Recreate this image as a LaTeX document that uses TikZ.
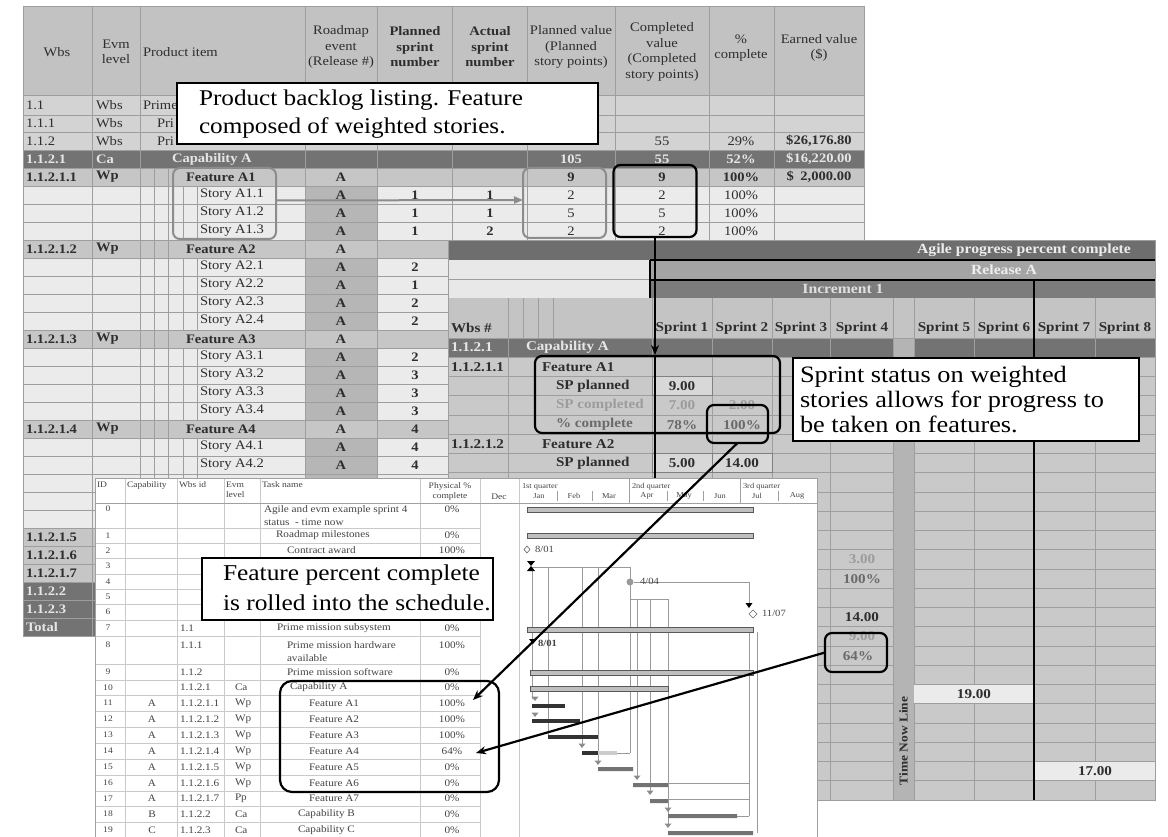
\documentclass[tikz,border=0pt]{standalone}
\usepackage{fontspec}
\setmainfont{Liberation Serif}[FakeStretch=1.12]
\usetikzlibrary{arrows.meta}
\definecolor{hdrc}{HTML}{C2C2C2}
\definecolor{topc}{HTML}{D3D3D3}
\definecolor{capc}{HTML}{737373}
\definecolor{featc}{HTML}{C6C6C6}
\definecolor{storyc}{HTML}{EBEBEB}
\definecolor{rmc}{HTML}{B6B6B6}
\definecolor{gridc}{HTML}{9E9E9E}
\definecolor{txc}{HTML}{2E2E2E}
\definecolor{captx}{HTML}{E6E6E6}
\definecolor{agilec}{HTML}{6E6E6E}
\definecolor{relc}{HTML}{A4A4A4}
\definecolor{incc}{HTML}{7C7C7C}
\definecolor{t2lt}{HTML}{E8E8E8}
\definecolor{t2hdr}{HTML}{C4C4C4}
\definecolor{t2body}{HTML}{C9C9C9}
\definecolor{tnc}{HTML}{B4B4B4}
\definecolor{valc}{HTML}{D8D8D8}
\definecolor{fadetx}{HTML}{9C9C9C}
\definecolor{pcttx}{HTML}{6A6A6A}
\definecolor{gtx}{HTML}{444444}
\definecolor{gline}{HTML}{C9C9C9}
\definecolor{gbord}{HTML}{A0A0A0}
\definecolor{linkc}{HTML}{9A9A9A}
\definecolor{grayboxc}{HTML}{8C8C8C}
\newcounter{nn}
\newcommand\tx[4][]{\stepcounter{nn}\node[#1] (n\arabic{nn}) at (#2,#3) {#4};}
\newcommand\srow[3]{\tx[t1,lft]{200}{#1}{#2}\tx[t1b]{341}{#1}{A}\tx[t1b]{415}{#1}{#3}}
\newcommand\frow[3]{\tx[t1b,lft]{26}{#1}{#2}\tx[t1b,lft]{96}{#1}{Wp}\tx[t1b,lft]{186}{#1}{#3}\tx[t1b]{341}{#1}{A}}
\newcommand\sbar[3]{\draw[black!65, line width=0.6pt, fill=black!25] (#1,#3-2.5) rectangle (#2,#3+2.5);}
\newcommand\gtri[2]{\fill[black!45] (#1-3.5,#2-2.5) -- (#1+3.5,#2-2.5) -- (#1,#2+2) -- cycle;}
\begin{document}
\begin{tikzpicture}[x=1pt,y=-1pt,
 every node/.style={inner sep=0pt, outer sep=0pt},
 lft/.style={anchor=west},
 hd/.style={font=\fontsize{13}{15.5}\selectfont, text=txc, align=center},
 hdb/.style={font=\fontsize{13}{15.5}\selectfont\bfseries, text=txc, align=center},
 t1/.style={font=\fontsize{13}{15}\selectfont, text=txc},
 t1b/.style={font=\fontsize{13}{15}\selectfont\bfseries, text=txc},
 t1c/.style={font=\fontsize{13}{15}\selectfont\bfseries, text=captx},
 t2/.style={font=\fontsize{13.5}{15}\selectfont\bfseries, text=txc},
 t2f/.style={t2, text=fadetx},
 t2p/.style={t2, text=pcttx},
 t2c/.style={t2, text=captx},
 t2h/.style={font=\fontsize{14}{16}\selectfont\bfseries, text=white!93!black},
 gt/.style={font=\fontsize{10}{13}\selectfont, text=gtx},
 gh/.style={font=\fontsize{8.5}{10}\selectfont, text=gtx},
 gq/.style={font=\fontsize{7.5}{9}\selectfont, text=gtx},
 gm/.style={font=\fontsize{9.5}{11}\selectfont, text=gtx},
 callout/.style={draw=black, line width=2.2pt, fill=white},
 ctext/.style={align=left, anchor=west, text=black},
 gbox/.style={draw=grayboxc, line width=2pt, rounded corners=7pt},
 kbox/.style={draw=black, line width=2.2pt, rounded corners=7pt},
 blk/.style={draw=black, line width=2.2pt},
 arr/.style={-{Stealth[length=10pt,width=8pt]}},
 grd/.style={draw=gridc, line width=0.6pt}]
\useasboundingbox (0,0) rectangle (1168,837);
\clip (0,0) rectangle (1168,837);
\fill[white] (0,0) rectangle (1168,837);

% ================= Table 1: product backlog =================
\fill[hdrc] (23,6) rectangle (864,95);
\fill[topc] (23,95) rectangle (864,150);
\fill[capc] (23,150) rectangle (864,168);
\fill[storyc] (23,168) rectangle (864,582);
\foreach \ya in {168,240,330,420,528,546,564} \fill[featc] (23,\ya) rectangle (864,\ya+18);
\foreach \ya in {186,204,222,258,276,294,312,348,366,384,402,438,456,474,492,510} \fill[rmc] (305,\ya) rectangle (377,\ya+18);
\fill[capc] (23,582) rectangle (864,636);
\foreach \yy in {95,115,132,150} \draw[grd] (23,\yy) -- (864,\yy);
\foreach \yy in {168,186,...,636} \draw[grd] (23,\yy) -- (864,\yy);
\foreach \xx in {23,92,140,305,377,452,527,615,709,774,864} \draw[grd] (\xx,6) -- (\xx,636);
\draw[grd] (23,6) -- (864,6);
\foreach \ya in {186,204,222,258,276,294,312,348,366,384,402,438,456,474,492,510}
  \foreach \xx in {154,168,183,197} \draw[grd] (\xx,\ya) -- (\xx,\ya+18);
\foreach \ya in {168,240,330,420,528,546,564}
  \foreach \xx in {154,168} \draw[grd] (\xx,\ya) -- (\xx,\ya+18);

% header
\tx[hd]{57}{52}{Wbs}
\tx[hd]{116}{52}{Evm\\level}
\tx[hd,lft]{143}{52}{Product item}
\tx[hd]{341}{47}{Roadmap\\event\\(Release \#)}
\tx[hdb]{415}{47}{Planned\\sprint\\number}
\tx[hdb]{490}{47}{Actual\\sprint\\number}
\tx[hd]{571}{47}{Planned value\\(Planned\\story points)}
\tx[hd]{662}{52}{Completed\\value\\(Completed\\story points)}
\tx[hd]{741}{48}{\%\\complete}
\tx[hd]{819}{48}{Earned value\\(\$)}
% top rows (partly hidden by the callout)
\tx[t1,lft]{26}{105}{1.1} \tx[t1,lft]{96}{105}{Wbs} \tx[t1,lft]{143}{105}{Prime}
\tx[t1,lft]{26}{123.5}{1.1.1} \tx[t1,lft]{96}{123.5}{Wbs} \tx[t1,lft]{157}{123.5}{Pri}
\tx[t1,lft]{26}{141}{1.1.2} \tx[t1,lft]{96}{141}{Wbs} \tx[t1,lft]{157}{141}{Pri}
\tx[t1]{662}{141}{55} \tx[t1]{741}{141}{29\%} \tx[t1b]{819}{141}{\$26,176.80}
\tx[t1c,lft]{26}{159}{1.1.2.1} \tx[t1c,lft]{96}{159}{Ca} \tx[t1c,lft]{172}{159}{Capability A}
\tx[t1c]{571}{159}{105} \tx[t1c]{662}{159}{55} \tx[t1c]{741}{159}{52\%} \tx[t1c]{819}{159}{\$16,220.00}
% feature A1
\frow{177}{1.1.2.1.1}{Feature A1}
\tx[t1b]{571}{177}{9} \tx[t1b]{662}{177}{9} \tx[t1b]{741}{177}{100\%} \tx[t1b]{819}{177}{\$\enspace2,000.00}
\srow{195}{Story A1.1}{1} \tx[t1b]{490}{195}{1} \tx[t1]{571}{195}{2} \tx[t1]{662}{195}{2} \tx[t1]{741}{195}{100\%}
\srow{213}{Story A1.2}{1} \tx[t1b]{490}{213}{1} \tx[t1]{571}{213}{5} \tx[t1]{662}{213}{5} \tx[t1]{741}{213}{100\%}
\srow{231}{Story A1.3}{1} \tx[t1b]{490}{231}{2} \tx[t1]{571}{231}{2} \tx[t1]{662}{231}{2} \tx[t1]{741}{231}{100\%}
\frow{249}{1.1.2.1.2}{Feature A2}
\srow{267}{Story A2.1}{2} \srow{285}{Story A2.2}{1} \srow{303}{Story A2.3}{2} \srow{321}{Story A2.4}{2}
\frow{339}{1.1.2.1.3}{Feature A3}
\srow{357}{Story A3.1}{2} \srow{375}{Story A3.2}{3} \srow{393}{Story A3.3}{3} \srow{411}{Story A3.4}{3}
\frow{429}{1.1.2.1.4}{Feature A4} \tx[t1b]{415}{429}{4}
\srow{447}{Story A4.1}{4} \srow{465}{Story A4.2}{4}
\tx[t1b,lft]{26}{537}{1.1.2.1.5} \tx[t1b,lft]{26}{555}{1.1.2.1.6} \tx[t1b,lft]{26}{573}{1.1.2.1.7}
\tx[t1c,lft]{26}{591}{1.1.2.2} \tx[t1c,lft]{26}{609}{1.1.2.3} \tx[t1c,lft]{26}{627}{Total}

% callout 1
\node[callout, minimum width=421pt, minimum height=61pt] (call1) at (387.5,113.5) {};
\node[ctext, font=\fontsize{22.5}{28}\selectfont] (call1t) at (199,114) {Product backlog listing. Feature\\composed of weighted stories.};
% boxes in table 1
\node[gbox, minimum width=103pt, minimum height=71pt] (storybox) at (224.5,203.5) {};
\node[gbox, minimum width=83pt, minimum height=70pt] (pvbox) at (564.5,203) {};
\node[kbox, minimum width=83pt, minimum height=72pt] (compbox) at (655,201) {};
\draw[draw=grayboxc, line width=2pt, -{Triangle[length=9pt,width=7pt]}] ([yshift=3pt]storybox.east) -- ([yshift=3pt]pvbox.west);

% ================= Table 2: agile progress =================
\fill[agilec] (448,240) rectangle (1155,260);
\fill[t2lt] (448,260) rectangle (650,298);
\draw[grd] (448,279) -- (650,279);
\fill[relc] (650,260) rectangle (1155,280);
\fill[incc] (650,280) rectangle (1155,298);
\fill[t2hdr] (448,298) rectangle (1155,338);
\fill[t2body] (448,338) rectangle (1155,800);
\fill[capc] (448,338) rectangle (893,357.25);
\fill[capc] (914,338) rectangle (1155,357.25);
\fill[tnc] (893,338) rectangle (914,800);
\foreach \k in {1,...,24} {\draw[grd] (448,338+19.25*\k) -- (893,338+19.25*\k); \draw[grd] (914,338+19.25*\k) -- (1155,338+19.25*\k);}
\draw[grd] (448,338) -- (1155,338);
\foreach \xx in {508,652,712,772,830,893,914,974,1095} \draw[grd] (\xx,298) -- (\xx,800);
\foreach \xx in {523,538,553} \draw[grd] (\xx,298) -- (\xx,338);
\draw[grd] (448,240) rectangle (1155,800);
\foreach \xa/\k in {652/2,652/6,712/6}
  \draw[fill=valc, draw=black!50, line width=0.6pt] (\xa,338+19.25*\k) rectangle (\xa+60,338+19.25*\k+19.25);
\fill[storyc] (914.4,684.9) rectangle (1033.6,703.4);
\fill[storyc] (1034.4,761.9) rectangle (1154.6,780.4);
\tx[t2h]{1024}{250}{Agile progress percent complete}
\tx[t2h]{1004}{270}{Release A}
\tx[t2h, text=white!88!black]{843}{289}{Increment 1}
\tx[t2,lft]{451}{328}{Wbs \#}
\foreach \xx/\s in {682/1,742/2,801/3,862/4,944/5,1004/6,1064/7,1125/8} {\tx[t2]{\xx}{328}{Sprint \s}}
\tx[t2c,lft]{451}{347.6}{1.1.2.1} \tx[t2c,lft]{526}{347.6}{Capability A}
\tx[t2,lft]{451}{366.9}{1.1.2.1.1} \tx[t2,lft]{542}{366.9}{Feature A1}
\tx[t2,lft]{556}{386.1}{SP planned} \tx[t2]{682}{386.1}{9.00}
\tx[t2f,lft]{556}{405.4}{SP completed} \tx[t2f]{682}{405.4}{7.00} \tx[t2f]{742}{405.4}{2.00}
\tx[t2p,lft]{556}{424.6}{\% complete} \tx[t2p]{682}{424.6}{78\%} \tx[t2p]{742}{424.6}{100\%}
\tx[t2,lft]{451}{443.9}{1.1.2.1.2} \tx[t2,lft]{542}{443.9}{Feature A2}
\tx[t2,lft]{556}{463.1}{SP planned} \tx[t2]{682}{463.1}{5.00} \tx[t2]{742}{463.1}{14.00}
\tx[t2f]{862}{559.4}{3.00} \tx[t2p]{862}{578.6}{100\%} \tx[t2]{862}{617.1}{14.00} \tx[t2f]{862}{636.4}{9.00} \tx[t2p]{858}{655.6}{64\%}
\tx[t2]{974}{694.1}{19.00} \tx[t2]{1095}{771.1}{17.00}
\tx[t2, rotate=90, font=\fontsize{12}{14}\selectfont\bfseries]{903.5}{741}{Time Now Line}
\draw[black, line width=1.6pt] (650,260) -- (1155,260) (650,280) -- (1155,280) (650,260) -- (650,298) (1034,280) -- (1034,800);
% arrow from completed value into sprint table
\coordinate (t2hit) at (655,355);
\coordinate (gtop) at (655,478);
\draw[blk,arr] (compbox.south) -- (t2hit);
\draw[blk] (t2hit) -- (gtop);
% boxes in table 2
\node[kbox, minimum width=245pt, minimum height=77pt] (fa1box) at (657.5,394.5) {};
\node[kbox, minimum width=61pt, minimum height=38pt] (pctbox) at (737.5,424) {};
\node[kbox, minimum width=62pt, minimum height=39pt] (box64) at (856,652.5) {};
% callout 2
\node[callout, minimum width=346pt, minimum height=83pt] (call2) at (966,399.5) {};
\node[ctext, font=\fontsize{23.5}{25}\selectfont] (call2t) at (800,399.5) {Sprint status on weighted\\stories allows for progress to\\be taken on features.};

% ================= Table 3: schedule (Gantt) =================
\fill[white] (95,478) rectangle (817,840);
\foreach \yy in {528,543,558,574,589,604,620,636,664,680,695,711,727,743,759,775,791,806,822} \draw[gline, line width=0.6pt] (95,\yy) -- (480,\yy);
\foreach \xx in {125,177,224,260,420,480,519} \draw[gline, line width=0.6pt] (\xx,478) -- (\xx,840);
\draw[gbord, line width=0.7pt] (95,503) -- (817,503);
\draw[gbord, line width=0.6pt] (629,478) -- (629,503) (740,478) -- (740,503);
\foreach \xx in {557,592,667,703,778} \draw[gbord, line width=0.6pt] (\xx,491) -- (\xx,501);
\draw[gbord, line width=0.9pt] (95,840) -- (95,478) -- (817,478) -- (817,840);
% header texts
\tx[gh,lft]{97}{485}{ID} \tx[gh,lft]{127}{485}{Capability} \tx[gh,lft]{179}{485}{Wbs id}
\tx[gh,lft,align=left]{226}{490}{Evm\\level} \tx[gh,lft]{262}{485}{Task name}
\tx[gh,align=center]{450}{491}{Physical \%\\complete} \tx[gh]{499}{497}{Dec}
\tx[gq,lft]{522}{487}{1st quarter} \tx[gq]{539}{496}{Jan} \tx[gq]{574}{496}{Feb} \tx[gq]{609}{496}{Mar}
\tx[gq,lft]{632}{487}{2nd quarter} \tx[gq]{647}{496}{Apr} \tx[gq]{684}{496}{May} \tx[gq]{720}{496}{Jun}
\tx[gq,lft]{743}{487}{3rd quarter} \tx[gq]{757}{496}{Jul} \tx[gq]{797}{496}{Aug}
% rows
\foreach \yy/\id in {509/0,535.5/1,550.5/2,566/3,581.5/4,596.5/5,612/6,628/7,645/8,672/9,687.5/10,703/11,719/12,735/13,751/14,767/15,783/16,798.5/17,814/18,830/19} {\tx[gh]{108}{\yy}{\id}}
\tx[gt,lft,align=left]{264}{515.5}{Agile and evm example sprint 4\\status \ - time now}
\tx[gt,lft]{276}{535.5}{Roadmap milestones}
\tx[gt,lft]{287}{550.5}{Contract award}
\tx[gt,lft]{277}{628}{Prime mission subsystem}
\tx[gt,lft,align=left]{287}{651.5}{Prime mission hardware\\available}
\tx[gt,lft]{287}{672}{Prime mission software}
\tx[gt,lft]{290}{687.5}{Capability A}
\foreach \i/\yy in {1/703,2/719,3/735,4/751,5/767,6/783,7/798.5} {\tx[gt,lft]{309}{\yy}{Feature A\i} \tx[gt]{152}{\yy}{A} \tx[gt,lft]{180}{\yy}{1.1.2.1.\i}}
\tx[gt,lft]{298}{814}{Capability B} \tx[gt,lft]{298}{830}{Capability C}
\tx[gt]{152}{814}{B} \tx[gt]{152}{830}{C}
\tx[gt,lft]{180}{628}{1.1} \tx[gt,lft]{180}{645}{1.1.1} \tx[gt,lft]{180}{672}{1.1.2} \tx[gt,lft]{180}{687.5}{1.1.2.1}
\tx[gt,lft]{180}{814}{1.1.2.2} \tx[gt,lft]{180}{830}{1.1.2.3}
\tx[gt,lft]{235}{687.5}{Ca}
\foreach \yy in {703,719,735,751,767,783} {\tx[gt,lft]{235}{\yy}{Wp}}
\tx[gt,lft]{235}{798.5}{Pp} \tx[gt,lft]{235}{814}{Ca} \tx[gt,lft]{235}{830}{Ca}
\foreach \yy/\p in {509/0,535.5/0,550.5/100,628/0,645/100,672/0,687.5/0,703/100,719/100,735/100,751/64,767/0,783/0,798.5/0,814/0,830/0} {\tx[gt]{452}{\yy}{\p\%}}
% chart: link lines
\begin{scope}[linkc, line width=0.7pt]
\draw (531,567) -- (630,567);
\foreach \xx/\yy in {532/699,548/735,582/746,598/763,630/753} \draw (\xx,567) -- (\xx,\yy);
\draw (617,753) -- (630,753);
\draw (634,582) -- (749,582) -- (749,603);
\draw (630,599) -- (668,599);
\foreach \xx/\yy in {637/778,650/793,668/825} \draw (\xx,599) -- (\xx,\yy);
\draw (749,632) -- (749,816);
\draw (757,632) -- (757,833);
\draw (668,783) -- (749,783) (668,799) -- (749,799) (737,816) -- (749,816);
\end{scope}
% chart: bars
\sbar{527}{753}{510} \sbar{527}{753}{536} \sbar{527}{753}{630} \sbar{530}{753}{673} \sbar{530}{668}{689}
\fill[black!80] (532,704) rectangle (565,708);
\fill[black!80] (532,719) rectangle (580,723);
\fill[black!80] (548,735) rectangle (598,739);
\fill[black!80] (582,751) rectangle (598,755);
\fill[black!20] (598,751) rectangle (617,755);
\fill[black!55] (598,767) rectangle (633,771) (633,783) rectangle (668,787) (650,799) rectangle (668,803) (668,814) rectangle (737,818) (668,831) rectangle (753,835);
\gtri{535}{699} \gtri{535}{715} \gtri{582}{746} \gtri{598}{763} \gtri{637}{778} \gtri{650}{793} \gtri{668}{810} \gtri{668}{826}
% chart: milestones
\draw[black!60, line width=0.6pt] (527,546) -- (530,549.5) -- (527,553) -- (524,549.5) -- cycle;
\tx[gm,lft]{535}{549}{8/01}
\fill[black] (527,561) -- (535,561) -- (531,566) -- cycle;
\fill[black] (527,571) -- (535,571) -- (531,566) -- cycle;
\fill[black!40] (630,582) circle[radius=3.5pt];
\tx[gm,lft]{640}{581}{4/04}
\fill[black] (745.5,603) -- (752.5,603) -- (749,608) -- cycle;
\draw[black!60, line width=0.6pt] (753,610) -- (757,614) -- (753,618) -- (749,614) -- cycle;
\tx[gm,lft]{762}{613}{11/07}
\fill[black] (529,639) -- (537,639) -- (533,644) -- cycle;
\tx[gm,lft,font=\fontsize{9.5}{11}\selectfont\bfseries]{538}{643}{8/01}
% box around features in schedule
\node[kbox, rounded corners=12pt, minimum width=219pt, minimum height=111pt] (gbox) at (389.5,736.5) {};
% callout 3
\node[callout, minimum width=291pt, minimum height=62pt] (call3) at (347.5,589) {};
\node[ctext, font=\fontsize{22.7}{29.5}\selectfont] (call3t) at (223,588) {Feature percent complete\\is rolled into the schedule.};
% arrows into schedule
\coordinate (fa1pct) at (473,700);
\coordinate (fa4pct) at (476,753);
\draw[blk,arr] (pctbox.south) -- (fa1pct);
\draw[blk,arr] (box64.west) -- (fa4pct);
\end{tikzpicture}
\end{document}
